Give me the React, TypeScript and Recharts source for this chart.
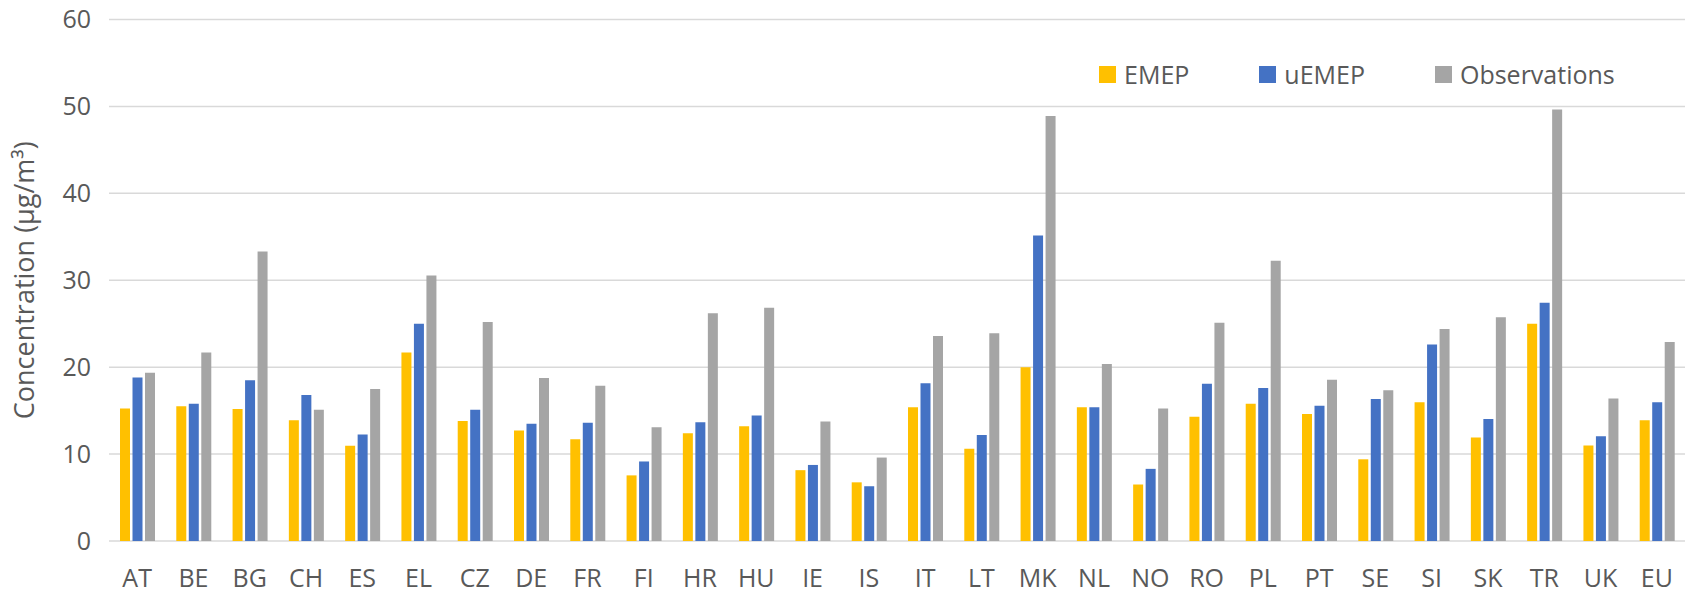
import React from 'react';
import {
  BarChart,
  Bar,
  XAxis,
  YAxis,
  CartesianGrid,
  Legend
} from 'recharts';

const countries = ['AT', 'BE', 'BG', 'CH', 'ES', 'EL', 'CZ', 'DE', 'FR', 'FI', 'HR', 'HU', 'IE', 'IS', 'IT', 'LT', 'MK', 'NL', 'NO', 'RO', 'PL', 'PT', 'SE', 'SI', 'SK', 'TR', 'UK', 'EU'];
const emep = [15.25, 15.5, 15.2, 13.9, 10.95, 21.7, 13.8, 12.7, 11.7, 7.55, 12.4, 13.2, 8.15, 6.75, 15.4, 10.6, 20.0, 15.4, 6.5, 14.3, 15.8, 14.6, 9.4, 15.95, 11.9, 25.0, 11.0, 13.9];
const uemep = [18.8, 15.8, 18.5, 16.8, 12.25, 25.0, 15.1, 13.5, 13.6, 9.15, 13.65, 14.45, 8.75, 6.3, 18.15, 12.2, 35.15, 15.4, 8.3, 18.1, 17.6, 15.55, 16.35, 22.6, 14.05, 27.4, 12.05, 15.95];
const observations = [19.35, 21.7, 33.3, 15.1, 17.5, 30.55, 25.2, 18.75, 17.85, 13.1, 26.2, 26.85, 13.75, 9.6, 23.6, 23.9, 48.9, 20.35, 15.25, 25.1, 32.25, 18.55, 17.35, 24.4, 25.75, 49.65, 16.4, 22.9];
const yTicks = [0, 10, 20, 30, 40, 50, 60];
const seriesOrder = ['EMEP', 'uEMEP', 'Observations'];

const data = countries.map((name, i) => ({
  name,
  EMEP: emep[i],
  uEMEP: uemep[i],
  Observations: observations[i],
}));

const FONT = "'Open Sans', sans-serif";
const TEXT = '#595959';

// keep legend in series order (recharts sorts by name otherwise)
const renderLegend = ({ payload }: any) => {
  const items = seriesOrder
    .map((k) => payload.find((p: any) => p.value === k))
    .filter(Boolean);
  return (
    <div style={{ display: 'flex', alignItems: 'center', fontFamily: FONT, fontSize: 25, color: TEXT }}>
      {items.map((entry: any, i: number) => (
        <div
          key={entry.value}
          style={{ display: 'flex', alignItems: 'center', marginRight: i < items.length - 1 ? 70 : 0 }}
        >
          <span style={{ display: 'inline-block', width: 17, height: 17, background: entry.color, marginRight: 8 }} />
          <span>{entry.value}</span>
        </div>
      ))}
    </div>
  );
};

const renderYLabel = ({ viewBox }: any) => {
  const cy = viewBox.y + viewBox.height / 2;
  return (
    <text
      x={34}
      y={cy}
      transform={`rotate(-90, 34, ${cy})`}
      textAnchor="middle"
      fill={TEXT}
      fontSize={27}
      fontFamily={FONT}
    >
      Concentration (μg/m³)
    </text>
  );
};

const App: React.FC = () => {
  return (
    <div style={{ position: 'absolute', left: 0, top: 0, background: '#fff' }}>
      <BarChart
        width={1687}
        height={594}
        data={data}
        margin={{ top: 19.5, right: 2, bottom: 0, left: 0 }}
        barSize={10}
        barGap={2.5}
      >
        <CartesianGrid vertical={false} stroke="#d9d9d9" strokeWidth={1.5} />
        <XAxis
          dataKey="name"
          height={53}
          axisLine={false}
          tickLine={false}
          tickSize={0}
          tickMargin={28}
          interval={0}
          tick={{ fill: TEXT, fontSize: 25, fontFamily: FONT }}
        />
        <YAxis
          width={109}
          domain={[0, 60]}
          ticks={yTicks}
          axisLine={false}
          tickLine={false}
          tickSize={0}
          tickMargin={18}
          tick={{ fill: TEXT, fontSize: 25, fontFamily: FONT }}
          label={{ content: renderYLabel }}
        />
        <Legend
          layout="horizontal"
          verticalAlign="middle"
          align="center"
          content={renderLegend}
          wrapperStyle={{ top: 57, left: 1099, width: 'auto' }}
        />
        <Bar dataKey="EMEP" fill="#FFC000" isAnimationActive={false} />
        <Bar dataKey="uEMEP" fill="#4472C4" isAnimationActive={false} />
        <Bar dataKey="Observations" fill="#A5A5A5" isAnimationActive={false} />
      </BarChart>
    </div>
  );
};

export default App;
